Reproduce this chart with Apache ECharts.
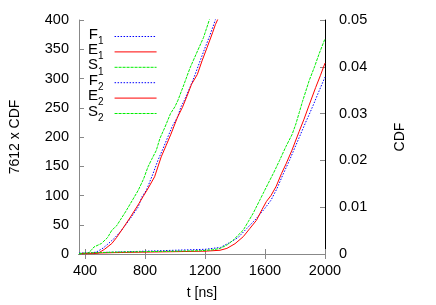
<!DOCTYPE html>
<html><head><meta charset="utf-8">
<script src="https://cdn.jsdelivr.net/npm/echarts@6/dist/echarts.min.js"></script>
<style>html,body{margin:0;padding:0;background:#fff}#c{width:436px;height:305px}</style>
</head><body><div id="c"></div>
<script>
// x tick labels
const xTicks = [400, 800, 1200, 1600, 2000];
// Group 1: 7612 x CDF (left axis), [t ns, value]
const F1 = [[360,0],[440,1],[480,4],[520,10],[557,18],[600,28],[645,41],[700,60],[754,80],[780,98],[809,109],[850,135],[886,160],[920,180],[952,200],[985,220],[1017,234],[1039,251],[1061,262],[1100,285],[1127,302],[1160,325],[1192,347],[1230,372],[1258,392],[1275,405]];
const E1 = [[360,0],[460,0.5],[491,2],[530,8],[579,18],[610,28],[645,41],[700,62],[754,84],[787,98],[820,112],[864,132],[908,166],[940,185],[973,205],[1017,234],[1050,251],[1080,270],[1110,290],[1149,307],[1180,330],[1214,353],[1250,378],[1269,392],[1292,405]];
const S1 = [[360,0],[420,1],[440,6],[460,12],[510,18],[550,28],[580,41],[610,48],[640,60],[670,72],[700,85],[730,98],[755,109],[790,128],[820,149],[845,162],[875,177],[900,198],[930,215],[970,240],[1000,252],[1020,263],[1060,290],[1100,318],[1150,347],[1190,370],[1235,405]];
// Group 2: CDF (right axis), [t ns, value]
const F2 = [[360,0.0002],[600,0.0004],[800,0.0006],[1000,0.0008],[1200,0.001],[1303,0.0014],[1368,0.0025],[1420,0.0035],[1480,0.0055],[1540,0.0075],[1600,0.0098],[1640,0.0115],[1680,0.014],[1720,0.017],[1763,0.02],[1800,0.0228],[1840,0.0258],[1872,0.0282],[1900,0.0302],[1924,0.032],[1960,0.0348],[2000,0.0378]];
const E2 = [[360,0.0001],[600,0.0003],[800,0.0004],[1000,0.0005],[1200,0.0006],[1300,0.0008],[1346,0.0012],[1400,0.0022],[1455,0.0037],[1500,0.0055],[1543,0.0072],[1580,0.0095],[1609,0.0112],[1640,0.0125],[1675,0.0145],[1710,0.0172],[1741,0.0193],[1780,0.0222],[1828,0.0262],[1860,0.0288],[1894,0.0318],[1938,0.0356],[1970,0.0382],[2000,0.0408]];
const S2 = [[360,0.0001],[400,0.0002],[600,0.0004],[800,0.0005],[1000,0.0006],[1171,0.0007],[1250,0.0009],[1302,0.0012],[1350,0.002],[1390,0.003],[1420,0.004],[1455,0.0051],[1490,0.007],[1521,0.0087],[1565,0.0115],[1587,0.0129],[1620,0.015],[1660,0.0175],[1697,0.02],[1740,0.023],[1780,0.0255],[1806,0.0278],[1828,0.0302],[1850,0.0326],[1894,0.037],[1930,0.040],[1960,0.0427],[2000,0.046]];

const FONT = 'Liberation Sans, Arial, sans-serif';
const BLUE = '#0000ff', RED = '#ff0000', GREEN = '#00ee00';
const DOT = [1.5, 1.5], DASH = [3, 1];
const chart = echarts.init(document.getElementById('c'), null, {renderer: 'canvas'});
function ser(name, data, color, type, yIdx) {
  return {name, type: 'line', data, yAxisIndex: yIdx, xAxisIndex: 0, symbol: 'none', showSymbol: false, clip: true,
    lineStyle: {color, width: 1, type}, itemStyle: {color}, animation: false};
}
function leg(name, color, type) {
  return {name, itemStyle: {color, opacity: 0}, lineStyle: {color, width: 1, type}};
}
const tickStyle = {show: true, inside: true, length: 5, lineStyle: {color: '#888'}};
chart.setOption({
  animation: false,
  grid: {left: 77, right: 111, top: 20, bottom: 51},
  textStyle: {fontFamily: FONT},
  legend: {
    orient: 'vertical', left: 88, top: 27, padding: 0, align: 'right',
    itemWidth: 42, itemHeight: 14, itemGap: -3.6,
    data: [leg('F1', BLUE, DOT), leg('E1', RED, 'solid'), leg('S1', GREEN, DASH),
           leg('F2', BLUE, DOT), leg('E2', RED, 'solid'), leg('S2', GREEN, DASH)],
    formatter: n => `{m|${n[0]}}{s|${n[1]}}`,
    textStyle: {padding: [0, 6, 0, 0],
      rich: {m: {fontSize: 15, fontFamily: FONT, color: '#000', verticalAlign: 'top'},
             s: {fontSize: 10, fontFamily: FONT, color: '#000', padding: [9, 0, 0, 0]}}}
  },
  xAxis: [{
    type: 'value', min: 360, max: 2000, position: 'bottom',
    name: 't [ns]', nameLocation: 'middle', nameGap: 32,
    nameTextStyle: {fontSize: 14, color: '#000', fontFamily: FONT},
    axisLine: {lineStyle: {color: '#000', width: 1}},
    axisTick: Object.assign({customValues: xTicks}, tickStyle),
    axisLabel: {customValues: xTicks, color: '#000', fontSize: 14.5, fontFamily: FONT, margin: 9,
      formatter: v => String(v)},
    splitLine: {show: false}
  }, {
    type: 'value', min: 360, max: 2000, position: 'top',
    axisLine: {show: true, lineStyle: {color: '#888', width: 1}},
    axisTick: Object.assign({customValues: xTicks}, tickStyle),
    axisLabel: {show: false}, splitLine: {show: false}
  }],
  yAxis: [{
    type: 'value', min: 0, max: 400, interval: 50, position: 'left',
    name: '7612 x CDF', nameLocation: 'middle', nameGap: 57, nameRotate: 90,
    nameTextStyle: {fontSize: 14, color: '#000', fontFamily: FONT},
    axisLine: {show: true, lineStyle: {color: '#888', width: 1}},
    axisTick: tickStyle,
    axisLabel: {color: '#000', fontSize: 14.5, fontFamily: FONT, margin: 10},
    splitLine: {show: false}
  }, {
    type: 'value', min: 0, max: 0.05, interval: 0.01, position: 'right',
    name: 'CDF', nameLocation: 'middle', nameGap: 68, nameRotate: 90,
    nameTextStyle: {fontSize: 14, color: '#000', fontFamily: FONT},
    axisLine: {show: true, lineStyle: {color: '#000', width: 1}},
    axisTick: tickStyle,
    axisLabel: {color: '#000', fontSize: 14.5, fontFamily: FONT, margin: 14,
      formatter: v => v === 0 ? '0' : v.toFixed(2)},
    splitLine: {show: false}
  }],
  series: [
    ser('F1', F1, BLUE, DOT, 0),
    ser('E1', E1, RED, 'solid', 0),
    ser('S1', S1, GREEN, DASH, 0),
    ser('F2', F2, BLUE, DOT, 1),
    ser('E2', E2, RED, 'solid', 1),
    ser('S2', S2, GREEN, DASH, 1)
  ]
});
</script></body></html>
